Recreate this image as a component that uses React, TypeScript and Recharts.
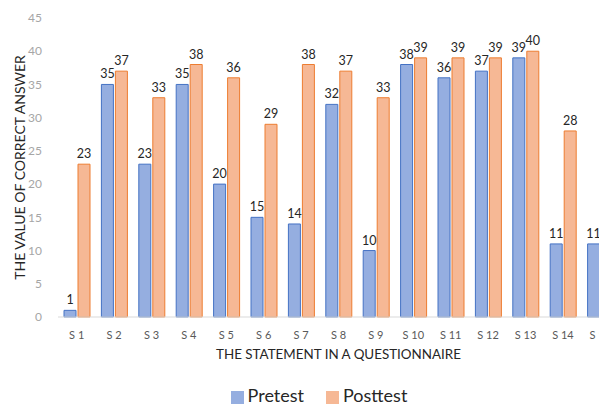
import { BarChart, Bar, XAxis, YAxis, Legend, LabelList } from 'recharts';

const statements = ['S 1', 'S 2', 'S 3', 'S 4', 'S 5', 'S 6', 'S 7', 'S 8', 'S 9', 'S 10', 'S 11', 'S 12', 'S 13', 'S 14', 'S 15'];
const pretest = [1, 35, 23, 35, 20, 15, 14, 32, 10, 38, 36, 37, 39, 11, 11];
const posttest = [23, 37, 33, 38, 36, 29, 38, 37, 33, 39, 39, 39, 40, 28, 30];
const yTicks = [0, 5, 10, 15, 20, 25, 30, 35, 40, 45];

const data = statements.map((s, i) => ({ name: s, pretest: pretest[i], posttest: posttest[i] }));

const font = 'Lato, "Open Sans", sans-serif';

export default function App() {
  return (
    <div style={{ margin: '-8px 0 0 -8px', width: 607, height: 406, overflow: 'hidden', fontFamily: font }}>
      <BarChart
        width={631}
        height={406}
        data={data}
        margin={{ top: 18, right: 12, left: 0, bottom: 37 }}
        barSize={12}
        barGap={2}
      >
        <XAxis
          dataKey="name"
          height={30}
          interval={0}
          tickLine={false}
          axisLine={{ stroke: '#d9d9d9' }}
          tick={{ fill: '#595959', fontSize: 11, fontFamily: font }}
          tickMargin={8}
          label={{ value: 'THE STATEMENT IN A QUESTIONNAIRE', position: 'bottom', offset: 2, dx: 0, fill: '#262626', fontSize: 13.4, fontFamily: font }}
        />
        <YAxis
          width={58}
          domain={[0, 45]}
          ticks={yTicks}
          axisLine={false}
          tickLine={false}
          tick={{ fill: '#a6a6a6', fontSize: 12, fontFamily: font }}
          tickMargin={10}
          label={{ value: 'THE VALUE OF CORRECT ANSWER', angle: -90, position: 'insideLeft', offset: 20, fill: '#262626', fontSize: 14, fontFamily: font, style: { textAnchor: 'middle' } }}
        />
        <Legend
          verticalAlign="bottom"
          iconType="square"
          iconSize={13}
          itemSorter={(item: any) => (item.value === 'Pretest' ? 0 : 1)}
          wrapperStyle={{ left: 10, width: 640, bottom: 0, fontSize: 18, fontFamily: font }}
          formatter={(v) => <span style={{ color: '#262626', marginRight: 12 }}>{v}</span>}
        />
        <Bar dataKey="pretest" name="Pretest" fill="#95aee0" stroke="#4472c4" strokeWidth={1} isAnimationActive={false}>
          <LabelList dataKey="pretest" position="top" offset={6} fill="#262626" fontSize={12.5} fontFamily={font} />
        </Bar>
        <Bar dataKey="posttest" name="Posttest" fill="#f6b895" stroke="#ed7d31" strokeWidth={1} isAnimationActive={false}>
          <LabelList dataKey="posttest" position="top" offset={6} fill="#262626" fontSize={12.5} fontFamily={font} />
        </Bar>
      </BarChart>
    </div>
  );
}
